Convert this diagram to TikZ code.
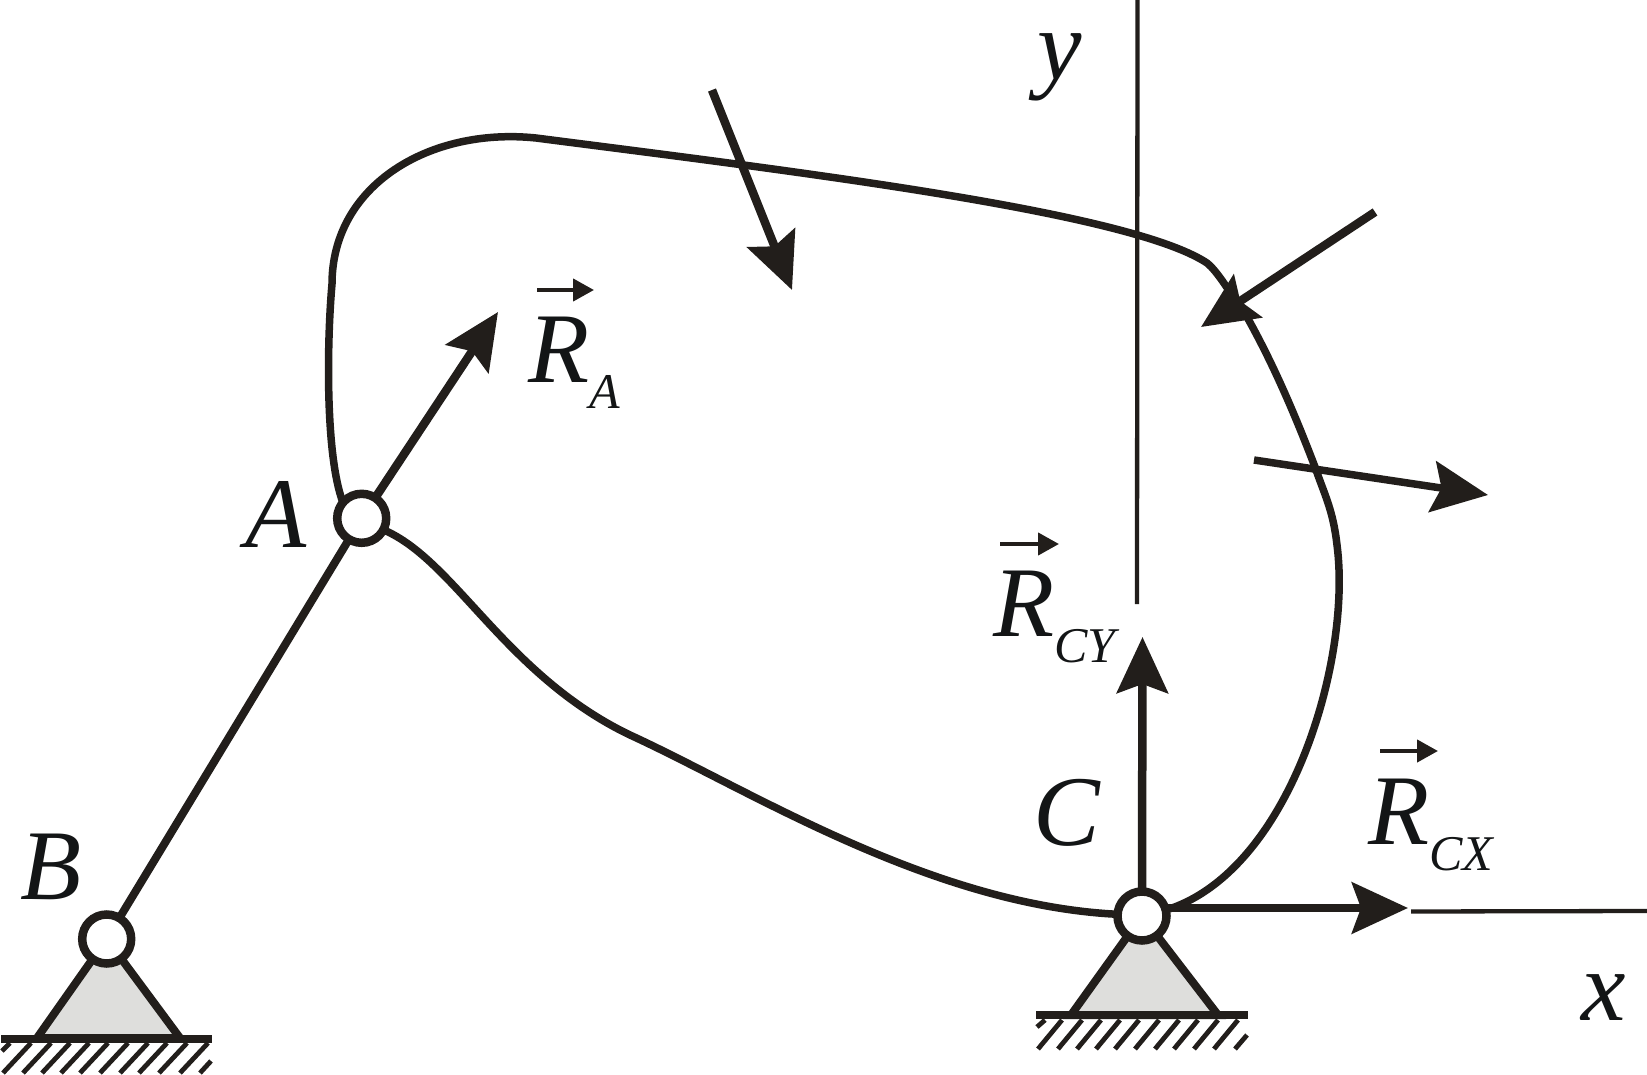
\documentclass[tikz,border=0pt]{standalone}
\usepackage{fontspec}
\setmainfont{Liberation Serif}
\usetikzlibrary{arrows.meta}
\definecolor{ink}{HTML}{221E1B}
\definecolor{basegray}{HTML}{DEDEDC}
\definecolor{txt}{HTML}{131516}
\tikzset{
  x=1pt,y=-1pt,
  hinge/.style={circle,draw=ink,fill=white,line width=8.5pt,minimum size=49pt,inner sep=0pt,outer sep=0pt},
  lab/.style={anchor=base west,inner sep=0pt,outer sep=0pt,text=txt,font=\fontsize{100}{100}\selectfont\itshape},
  bar/.style={draw=ink,line width=8pt},
  body/.style={draw=ink,line width=7.5pt,line join=round},
  axis/.style={draw=ink,line width=4.3pt},
  force/.style={draw=ink,line width=8.5pt,-{Stealth[length=56pt,width=51pt,inset=9pt]}},
  hatch/.style={draw=ink,line width=4.8pt},
  vecmark/.style={draw=ink,line width=4.3pt,-{Triangle[length=21pt,width=22pt]}},
  base/.style={fill=basegray,draw=ink,line width=8pt,line join=miter},
  ground/.style={draw=ink,line width=8.5pt}
}
\newcommand{\subtxt}[1]{\raisebox{-26pt}{\fontsize{50}{50}\selectfont #1}}
\begin{document}
\begin{tikzpicture}
\useasboundingbox (0,0) rectangle (1647,1075);
% supports
\filldraw[base] (37,1038) -- (106.7,939) -- (180,1038) -- cycle;
\filldraw[base] (1071,1015) -- (1142,916) -- (1218,1015) -- cycle;
% coordinates
\coordinate (tRA) at (498,312);
\coordinate (tCY) at (1142.5,637);
\coordinate (tCX) at (1408,908);
\coordinate (xs) at (1411,911.5);
\coordinate (xe) at (1647,911);
\coordinate (ys) at (1137.5,0);
\coordinate (ye) at (1137,604);
\coordinate (f1s) at (712,90);
\coordinate (f1e) at (792,290);
\coordinate (f2s) at (1375,212);
\coordinate (f2e) at (1201,327);
\coordinate (f3s) at (1254,460);
\coordinate (f3e) at (1488,495);
% axes
\draw[axis] (ys) -- (ye);
\draw[axis] (xs) -- (xe);
% hinges
\node[hinge] (A) at (361.7,518.3) {};
\node[hinge] (B) at (106.7,939) {};
\node[hinge] (C) at (1142,916) {};
% link
\draw[bar] (B) -- (A);
% body
\draw[body] (A.140) .. controls (325,455) and (327,340) .. (332,284)
  .. controls (332,185) and (430,127) .. (536,138)
  .. controls (800,172) and (1130,212) .. (1207,263)
  .. controls (1218,272) and (1228,290) .. (1247,317)
  .. controls (1275,367) and (1297,420) .. (1315,467)
  .. controls (1325,496) and (1333,510) .. (1337,545)
  .. controls (1352,660) and (1290,872) .. (C.14);
\draw[body] (A.-28) .. controls (455,560) and (505,675) .. (630,735)
  .. controls (750,790) and (930,905) .. (C.176);
% forces
\draw[force] (A) -- (tRA);
\draw[force] (C.north) -- (tCY);
\draw[force] (C.east |- tCX) -- (tCX);
\draw[force] (f1s) -- (f1e);
\draw[force] (f2s) -- (f2e);
\draw[force,line width=7.5pt] (f3s) -- (f3e);
% grounds
\draw[ground] (1,1039) -- (212,1039);
\draw[ground] (1036,1015) -- (1247.5,1015);
\foreach \xb in {3,23,42,61,80,100,120,139,159,180}
  \draw[hatch] (\xb,1073) -- (\xb+28,1043);
\draw[hatch] (2,1051) -- (10,1043);
\draw[hatch] (200,1073) -- (211,1061);
\foreach \xb in {1038,1058,1077,1096,1115,1135,1155,1174,1194,1214}
  \draw[hatch] (\xb,1049) -- (\xb+24,1020);
\draw[hatch] (1037,1027) -- (1045,1020);
\draw[hatch] (1235,1049) -- (1247,1035);
% labels
\node[lab] (lA) at (245,547) {A};
\node[lab] (lB) at (20,899) {B};
\node[lab] (lC) at (1033,845) {C};
\node[lab] (lx) at (1581,1020) {x};
\node[lab] (ly) at (1037,80) {y};
\node[lab] (lRA) at (528,382) {R\subtxt{A}};
\node[lab] (lRCY) at (993,636) {R\subtxt{CY}};
\node[lab] (lRCX) at (1368,844) {R\subtxt{CX}};
% vector marks
\coordinate (vAs) at (537,290);  \coordinate (vAe) at (594,290);
\coordinate (vYs) at (1000,544); \coordinate (vYe) at (1059,544);
\coordinate (vXs) at (1380,751); \coordinate (vXe) at (1438,751);
\draw[vecmark] (vAs) -- (vAe);
\draw[vecmark] (vYs) -- (vYe);
\draw[vecmark] (vXs) -- (vXe);
\end{tikzpicture}
\end{document}
